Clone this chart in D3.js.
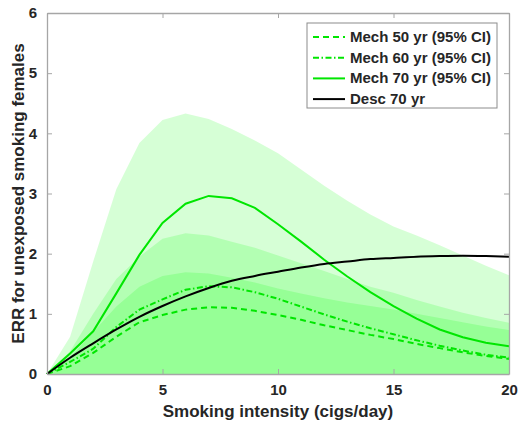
<!DOCTYPE html>
<html>
<head>
<meta charset="utf-8">
<script src="https://cdn.jsdelivr.net/npm/d3@7"></script>
<style>
  body { margin: 0; background: #fff; }
  svg text { font-family: "Liberation Sans", Arial, sans-serif; font-weight: bold; fill: #262626; }
</style>
</head>
<body>
<div id="chart"></div>
<script>
// Smoking intensity (cigs/day)
const intensity = [0, 1, 2, 3, 4, 5, 6, 7, 8, 9, 10, 11, 12, 13, 14, 15, 16, 17, 18, 19, 20];

// central estimates
const mech50 = [0, 0.13, 0.35, 0.62, 0.86, 0.98, 1.07, 1.11, 1.10, 1.05, 0.98, 0.90, 0.81, 0.73, 0.65, 0.58, 0.50, 0.43, 0.36, 0.30, 0.25];
const mech60 = [0, 0.20, 0.42, 0.78, 1.07, 1.24, 1.40, 1.46, 1.44, 1.36, 1.25, 1.12, 0.99, 0.87, 0.76, 0.66, 0.56, 0.47, 0.39, 0.32, 0.27];
const mech70 = [0, 0.34, 0.71, 1.34, 1.98, 2.51, 2.83, 2.96, 2.92, 2.76, 2.49, 2.20, 1.90, 1.62, 1.36, 1.13, 0.92, 0.74, 0.61, 0.52, 0.46];
const desc70 = [0, 0.27, 0.51, 0.74, 0.95, 1.13, 1.29, 1.43, 1.55, 1.63, 1.70, 1.77, 1.83, 1.87, 1.91, 1.93, 1.95, 1.96, 1.965, 1.96, 1.95];

// 95% CI bounds
const mech50Lo = [0, 0, 0, 0, 0, 0, 0, 0, 0, 0, 0, 0, 0, 0, 0, 0, 0, 0, 0, 0, 0];
const mech50Hi = [0, 0.27, 0.70, 1.12, 1.45, 1.63, 1.69, 1.67, 1.60, 1.52, 1.42, 1.34, 1.26, 1.19, 1.13, 1.07, 1.00, 0.93, 0.86, 0.79, 0.73];
const mech60Lo = [0, 0, 0, 0, 0, 0, 0, 0, 0, 0, 0, 0, 0, 0, 0, 0, 0, 0, 0, 0, 0];
const mech60Hi = [0, 0.38, 1.00, 1.58, 1.95, 2.25, 2.34, 2.30, 2.20, 2.10, 1.97, 1.84, 1.71, 1.58, 1.45, 1.35, 1.23, 1.12, 1.02, 0.93, 0.85];
const mech70Lo = [0, 0, 0, 0, 0, 0, 0, 0, 0, 0, 0, 0, 0, 0, 0, 0, 0, 0, 0, 0, 0];
const mech70Hi = [0, 0.62, 1.87, 3.07, 3.84, 4.22, 4.33, 4.24, 4.07, 3.88, 3.67, 3.40, 3.13, 2.88, 2.65, 2.45, 2.30, 2.14, 1.97, 1.80, 1.64];

const xTicks = [0, 5, 10, 15, 20];
const yTicks = [0, 1, 2, 3, 4, 5, 6];
const legendLabels = ["Mech 50 yr (95% CI)", "Mech 60 yr (95% CI)", "Mech 70 yr (95% CI)", "Desc 70 yr"];

const W = 518, H = 427;
const margin = {top: 13, right: 9, bottom: 53, left: 47};
const width = W - margin.left - margin.right;
const height = H - margin.top - margin.bottom;

const svg = d3.select("#chart").append("svg")
    .attr("width", W)
    .attr("height", H);

const chart = svg.append("g")
    .attr("transform", `translate(${margin.left},${margin.top})`);

const x = d3.scaleLinear().domain([0, 20]).range([0, width]);
const y = d3.scaleLinear().domain([0, 6]).range([height, 0]);

// CI bands
const bands = [
  {lo: mech50Lo, hi: mech50Hi},
  {lo: mech60Lo, hi: mech60Hi},
  {lo: mech70Lo, hi: mech70Hi}
];
const area = d3.area()
    .x(d => x(d.x))
    .y0(d => y(d.lo))
    .y1(d => y(d.hi));

bands.forEach(b => {
  const pts = intensity.map((v, i) => ({x: v, lo: b.lo[i], hi: b.hi[i]}));
  chart.append("path")
      .attr("d", area(pts))
      .attr("fill", "#00ff00")
      .attr("fill-opacity", 0.16)
      .attr("stroke", "none");
});

// lines
const green = "#00e600";
const series = [
  {vals: mech50, color: green, dash: "6,4"},
  {vals: mech60, color: green, dash: "6,2.5,1.5,2.5"},
  {vals: mech70, color: green, dash: null},
  {vals: desc70, color: "#000", dash: null}
];
const line = d3.line()
    .x(d => x(d[0]))
    .y(d => y(d[1]));

series.forEach((s, k) => {
  const pts = intensity.map((v, i) => [v, s.vals[i]]);
  const ln = k === 3 ? line.curve(d3.curveMonotoneX) : line.curve(d3.curveLinear);
  chart.append("path")
      .attr("d", ln(pts))
      .attr("fill", "none")
      .attr("stroke", s.color)
      .attr("stroke-width", 2)
      .attr("stroke-dasharray", s.dash);
});

// axes
const axisColor = "#a6a6a6";
const xAxis = d3.axisBottom(x).tickValues(xTicks).tickFormat(d3.format("d"))
    .tickSizeInner(-5).tickSizeOuter(0).tickPadding(10);
const yAxis = d3.axisLeft(y).tickValues(yTicks).tickFormat(d3.format("d"))
    .tickSizeInner(-5).tickSizeOuter(0).tickPadding(10);

const xg = chart.append("g")
    .attr("transform", `translate(0,${height})`)
    .call(xAxis);
const yg = chart.append("g").call(yAxis);

// top and right box edges with ticks
const xTop = chart.append("g")
    .call(d3.axisTop(x).tickValues(xTicks).tickSizeInner(-5).tickSizeOuter(0).tickFormat(""));
const yRight = chart.append("g")
    .attr("transform", `translate(${width},0)`)
    .call(d3.axisRight(y).tickValues(yTicks).tickSizeInner(-5).tickSizeOuter(0).tickFormat(""));

[xg, yg, xTop, yRight].forEach(g => {
  g.select(".domain").attr("stroke", axisColor).attr("stroke-width", 1.3);
  g.selectAll(".tick line").attr("stroke", axisColor);
  g.selectAll(".tick text")
      .attr("fill", "#262626")
      .style("font-size", "15px")
      .style("font-weight", "bold")
      .style("font-family", "'Liberation Sans', Arial, sans-serif");
});

// axis labels
svg.append("text")
    .attr("x", margin.left + width / 2)
    .attr("y", 417)
    .attr("text-anchor", "middle")
    .style("font-size", "17px")
    .text("Smoking intensity (cigs/day)");

svg.append("text")
    .attr("transform", `translate(24,${margin.top + height / 2}) rotate(-90)`)
    .attr("text-anchor", "middle")
    .style("font-size", "17px")
    .text("ERR for unexposed smoking females");

// legend
const legend = svg.append("g").attr("transform", "translate(307,23)");
legend.append("rect")
    .attr("width", 190)
    .attr("height", 85)
    .attr("fill", "#fff")
    .attr("stroke", "#8c8c8c")
    .attr("stroke-width", 1);

series.forEach((s, i) => {
  const ly = 14 + i * 20.7;
  legend.append("line")
      .attr("x1", 6).attr("x2", 38)
      .attr("y1", ly).attr("y2", ly)
      .attr("stroke", s.color)
      .attr("stroke-width", 2)
      .attr("stroke-dasharray", s.dash);
  legend.append("text")
      .attr("x", 43)
      .attr("y", ly + 5)
      .style("font-size", "15px")
      .text(legendLabels[i]);
});
</script>
</body>
</html>
